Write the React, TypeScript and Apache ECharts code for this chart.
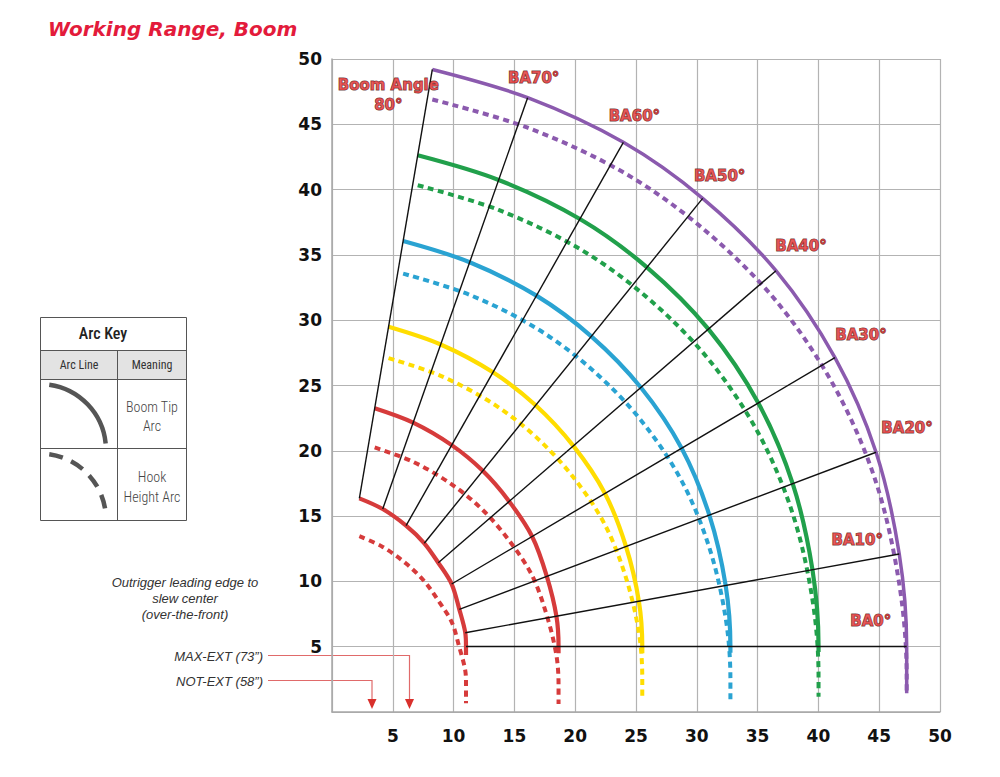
import React, { useEffect, useRef } from "react";
import * as echarts from "echarts";

// boom angle lines, 0° .. 80°
const boomAngles = [0, 10, 20, 30, 40, 50, 60, 70, 80];
const angleLabels = ["BA0°", "BA10°", "BA20°", "BA30°", "BA40°", "BA50°", "BA60°", "BA70°", "Boom Angle\n80°"];

// boom tip (ft) with the boom fully retracted / fully extended
const retractedX = [11.02, 10.96, 10.47, 9.84, 8.74, 7.59, 6.09, 4.17, 2.25];
const retractedY = [5.0, 6.07, 7.86, 9.8, 11.43, 12.92, 14.27, 15.54, 16.36];
const extendedX = [47.26, 46.65, 44.74, 41.36, 36.51, 30.48, 23.96, 16.09, 8.25];
const extendedY = [5.0, 12.1, 19.89, 27.13, 33.79, 39.33, 43.62, 47.04, 49.2];

// telescoped sections (share of full extension) and their arcs
const sectionShare = [0, 0.21, 0.4, 0.6, 0.8, 1];
const hookDrop = [2.9, 3.0, 2.4, 2.5, 2.3, 2.3];
const tipArcEndY = [4.36, 4.5, 4.5, 4.54, 4.6, 1.43];
const hookArcEndY = [0.67, 0.61, 1.05, 0.92, 1.17, 1.43];

const arcColors = ["#d63b3b", "#d63b3b", "#ffdd00", "#2aa3d2", "#21a04b", "#8b5aae"];
const labelOffsets = [
  [-36, -26], [-42, -14], [31, -24], [26, -23], [25, -25],
  [17, -22], [11, -26], [6, -20], [-44, 26],
];

const sectionPoints = (share: number) =>
  boomAngles
    .map((_, i) => [
      retractedX[i] + share * (extendedX[i] - retractedX[i]),
      retractedY[i] + share * (extendedY[i] - retractedY[i]),
    ])
    .reverse();

const WorkingRangeBoom: React.FC = () => {
  const chartRef = useRef<HTMLDivElement | null>(null);

  useEffect(() => {
    if (!chartRef.current) return;
    const chart = echarts.init(chartRef.current, null, { renderer: "svg" });

    const arcSeries: any[] = [];
    sectionShare.forEach((share, j) => {
      const tip = sectionPoints(share);
      const bottom = tip[tip.length - 1];
      arcSeries.push({
        type: "line",
        data: [...tip, [bottom[0], tipArcEndY[j]]],
        smooth: 0.33,
        showSymbol: false,
        silent: true,
        lineStyle: { color: arcColors[j], width: j === 5 ? 3.5 : 4.2 },
        z: 2,
      });
      const hook = tip.map((p) => [p[0], p[1] - hookDrop[j]]);
      arcSeries.push({
        type: "line",
        data: [...hook, [bottom[0], hookArcEndY[j]]],
        smooth: 0.33,
        showSymbol: false,
        silent: true,
        lineStyle: { color: arcColors[j], width: 4, type: [6, 4.5] },
        z: 2,
      });
    });

    const axisFont = {
      color: "#111",
      fontFamily: "'DejaVu Sans'",
      fontWeight: "bold" as const,
      fontSize: 17,
      formatter: (v: number) => (v === 0 ? "" : String(v)),
    };
    const condensed = "'Liberation Sans Narrow', 'Roboto Condensed', Roboto, sans-serif";
    const note = "italic 13px 'Liberation Sans', Arial, sans-serif";

    const option = {
      animation: false,
      grid: { left: 332, top: 59, width: 608, height: 653 },
      xAxis: {
        type: "value",
        min: 0,
        max: 50,
        interval: 5,
        axisLine: { show: true, lineStyle: { color: "#a8a8a8", width: 1.5 } },
        axisTick: { show: false },
        splitLine: { show: true, lineStyle: { color: "#b3b3b3", width: 1.2 } },
        axisLabel: { ...axisFont, margin: 15 },
      },
      yAxis: {
        type: "value",
        min: 0,
        max: 50,
        interval: 5,
        axisLine: { show: true, lineStyle: { color: "#a8a8a8", width: 1.5 } },
        axisTick: { show: false },
        splitLine: { show: true, lineStyle: { color: "#b3b3b3", width: 1.2 } },
        axisLabel: { ...axisFont, margin: 10 },
      },
      series: [
        ...arcSeries,
        {
          type: "lines",
          coordinateSystem: "cartesian2d",
          silent: true,
          data: boomAngles.map((_, i) => ({
            coords: [
              [retractedX[i], retractedY[i]],
              [extendedX[i], extendedY[i]],
            ],
          })),
          lineStyle: { color: "#111", width: 1.4, opacity: 1 },
          z: 3,
        },
        {
          type: "scatter",
          symbolSize: 0,
          silent: true,
          data: boomAngles.map((_, i) => ({
            value: [extendedX[i], extendedY[i]],
            label: { offset: labelOffsets[i] },
          })),
          label: {
            show: true,
            position: "inside",
            align: "center",
            verticalAlign: "middle",
            formatter: (p: any) => angleLabels[p.dataIndex],
            fontFamily: "'DejaVu Sans'",
            fontWeight: "bold",
            fontSize: 15,
            lineHeight: 20,
            color: "#e02e2e",
            textBorderColor: "#4a0e0e",
            textBorderWidth: 1,
          },
          z: 4,
        },
      ],
      graphic: [
        {
          type: "text",
          x: 48,
          y: 29,
          style: {
            text: "Working Range, Boom",
            font: "italic bold 20px 'DejaVu Sans'",
            fill: "#e31b3b",
            verticalAlign: "middle",
          },
        },
        // arc key table
        { type: "rect", shape: { x: 40.5, y: 317.5, width: 146, height: 203 }, style: { fill: "#fff", stroke: "#555", lineWidth: 1 } },
        { type: "rect", shape: { x: 41, y: 351, width: 145, height: 28 }, style: { fill: "#e3e3e3" } },
        { type: "line", shape: { x1: 40.5, y1: 350.5, x2: 186.5, y2: 350.5 }, style: { stroke: "#555", lineWidth: 1 } },
        { type: "line", shape: { x1: 40.5, y1: 379.5, x2: 186.5, y2: 379.5 }, style: { stroke: "#555", lineWidth: 1 } },
        { type: "line", shape: { x1: 40.5, y1: 448.5, x2: 186.5, y2: 448.5 }, style: { stroke: "#555", lineWidth: 1 } },
        { type: "line", shape: { x1: 117.5, y1: 350.5, x2: 117.5, y2: 520.5 }, style: { stroke: "#555", lineWidth: 1 } },
        { type: "text", x: 103, y: 333, style: { text: "Arc Key", font: `500 16px ${condensed}`, fill: "#222", align: "center", verticalAlign: "middle" } },
        { type: "text", x: 79, y: 365, style: { text: "Arc Line", font: `12px ${condensed}`, fill: "#333", align: "center", verticalAlign: "middle" } },
        { type: "text", x: 152, y: 365, style: { text: "Meaning", font: `12px ${condensed}`, fill: "#333", align: "center", verticalAlign: "middle" } },
        { type: "text", x: 152, y: 416, style: { text: "Boom Tip\nArc", font: `300 14px ${condensed}`, lineHeight: 19, fill: "#444", align: "center", verticalAlign: "middle" } },
        { type: "text", x: 152, y: 487, style: { text: "Hook\nHeight Arc", font: `300 14px ${condensed}`, lineHeight: 20, fill: "#444", align: "center", verticalAlign: "middle" } },
        {
          type: "arc",
          shape: { cx: 40, cy: 450, r: 66, startAngle: -1.43, endAngle: -0.1, clockwise: true },
          style: { stroke: "#555", lineWidth: 4.5, fill: null },
        },
        {
          type: "arc",
          shape: { cx: 40, cy: 519.5, r: 66, startAngle: -1.43, endAngle: -0.1, clockwise: true },
          style: { stroke: "#555", lineWidth: 4.5, fill: null, lineDash: [14, 9] },
        },
        // outrigger notes
        { type: "text", x: 185, y: 582, style: { text: "Outrigger leading edge to", font: note, fill: "#333", align: "center", verticalAlign: "middle" } },
        { type: "text", x: 185, y: 598, style: { text: "slew center", font: note, fill: "#333", align: "center", verticalAlign: "middle" } },
        { type: "text", x: 185, y: 614, style: { text: "(over-the-front)", font: note, fill: "#333", align: "center", verticalAlign: "middle" } },
        { type: "text", x: 263, y: 656, style: { text: "MAX-EXT (73”)", font: note, fill: "#333", align: "right", verticalAlign: "middle" } },
        { type: "text", x: 263, y: 681, style: { text: "NOT-EXT (58”)", font: note, fill: "#333", align: "right", verticalAlign: "middle" } },
        {
          type: "polyline",
          shape: { points: [[268, 655.5], [409.5, 655.5], [409.5, 701]] },
          style: { stroke: "#e06a6a", lineWidth: 1.2, fill: null },
        },
        { type: "polygon", shape: { points: [[405, 699], [414, 699], [409.5, 709]] }, style: { fill: "#d9302c" } },
        {
          type: "polyline",
          shape: { points: [[268, 680.5], [372, 680.5], [372, 701]] },
          style: { stroke: "#e06a6a", lineWidth: 1.2, fill: null },
        },
        { type: "polygon", shape: { points: [[367.5, 699], [376.5, 699], [372, 709]] }, style: { fill: "#d9302c" } },
      ],
    };

    chart.setOption(option);

    const handleResize = () => chart.resize();
    window.addEventListener("resize", handleResize);
    return () => {
      window.removeEventListener("resize", handleResize);
      chart.dispose();
    };
  }, []);

  return (
    <div
      ref={chartRef}
      style={{
        position: "fixed",
        left: 0,
        top: 0,
        width: "1000px",
        height: "777px",
        background: "#fff",
      }}
    />
  );
};

export default WorkingRangeBoom;
